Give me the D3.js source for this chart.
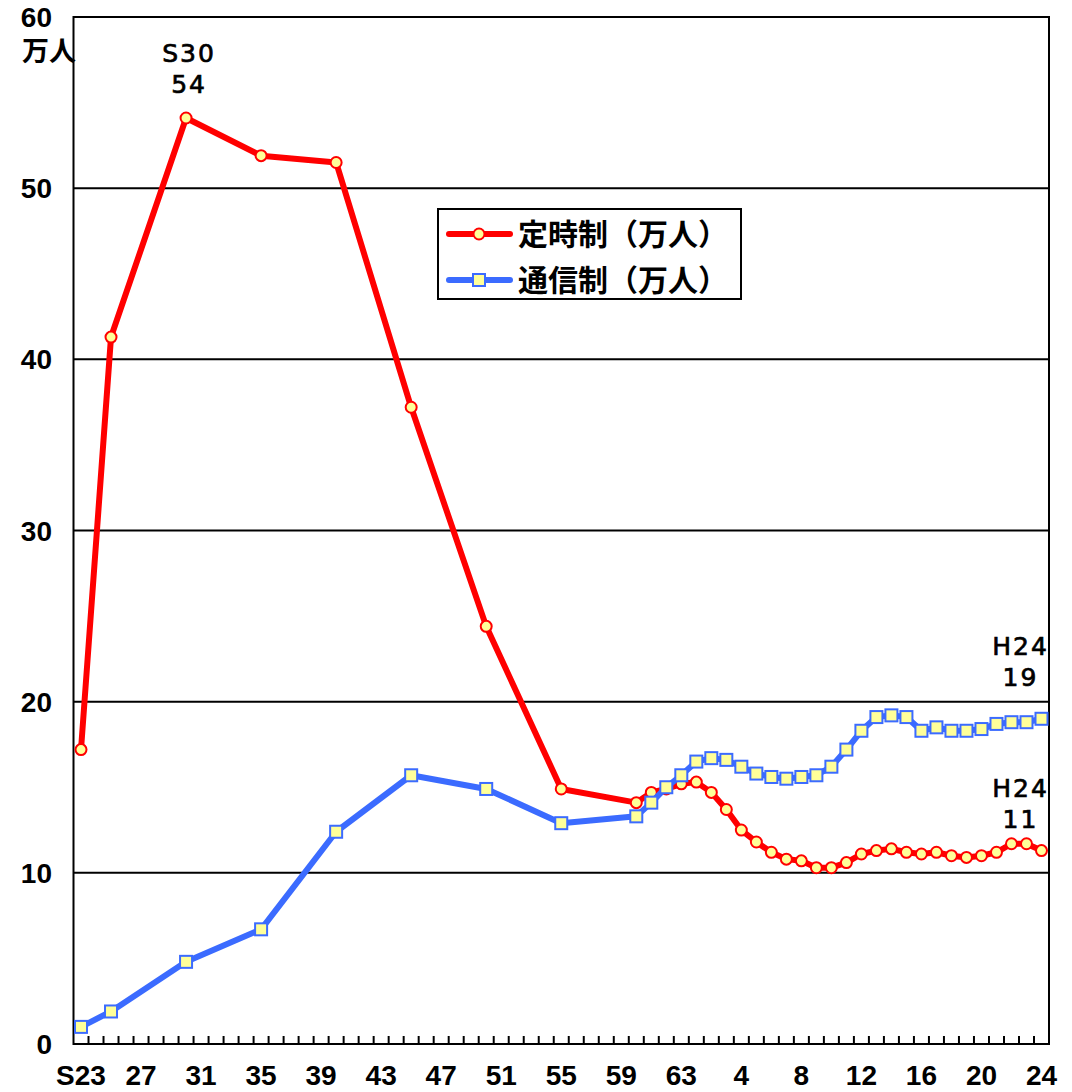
<!DOCTYPE html>
<html lang="ja">
<head>
<meta charset="UTF-8">
<title>定時制・通信制 生徒数</title>
<script src="https://d3js.org/d3.v7.min.js"></script>
<style>
  body { margin: 0; background: #fff; }
  svg { display: block; }
  .lbl { font-family: "Liberation Sans", Arial, sans-serif; font-weight: bold; fill: #000; }
  .note { font-family: "DejaVu Sans", sans-serif; fill: #000; stroke: #000; stroke-width: 0.7px; letter-spacing: 2px; }
  .jp { font-family: "Noto Sans CJK JP", sans-serif; font-weight: bold; fill: #000; }
</style>
</head>
<body>
<div id="chart"></div>
<script>
// 年度カテゴリ（S23〜S63, H1〜H24）
const categories = [];
for (let yr = 23; yr <= 63; yr++) categories.push("S" + yr);
for (let yr = 1; yr <= 24; yr++) categories.push("H" + yr);

// x軸ラベル（4年ごと）
const tickCats = ["S23","S27","S31","S35","S39","S43","S47","S51","S55","S59","S63","H4","H8","H12","H16","H20","H24"];
const tickLabels = ["S23","27","31","35","39","43","47","51","55","59","63","4","8","12","16","20","24"];
const yTicks = [0, 10, 20, 30, 40, 50, 60];

// データのある年度
const dataYears = ["S23","S25","S30","S35","S40","S45","S50","S55","S60","S61","S62","S63",
  "H1","H2","H3","H4","H5","H6","H7","H8","H9","H10","H11","H12",
  "H13","H14","H15","H16","H17","H18","H19","H20","H21","H22","H23","H24"];

// 定時制（万人）
const teijisei = [17.2, 41.3, 54.1, 51.9, 51.5, 37.2, 24.4, 14.9, 14.1, 14.7, 14.9, 15.2,
  15.3, 14.7, 13.7, 12.5, 11.8, 11.2, 10.8, 10.7, 10.3, 10.3, 10.6, 11.1,
  11.3, 11.4, 11.2, 11.1, 11.2, 11.0, 10.9, 11.0, 11.2, 11.7, 11.7, 11.3];

// 通信制（万人）
const tsushinsei = [1.0, 1.9, 4.8, 6.7, 12.4, 15.7, 14.9, 12.9, 13.3, 14.1, 15.0, 15.7,
  16.5, 16.7, 16.6, 16.2, 15.8, 15.6, 15.5, 15.6, 15.7, 16.2, 17.2, 18.3,
  19.1, 19.2, 19.1, 18.3, 18.5, 18.3, 18.3, 18.4, 18.7, 18.8, 18.8, 19.0];

const W = 1072, H = 1092;
const pLeft = 73.5, pRight = 1049, pTop = 17, pBottom = 1044;

const svg = d3.select("#chart").append("svg")
  .attr("width", W).attr("height", H);

const x = d3.scaleBand().domain(categories).range([pLeft, pRight]).padding(0);
const bw = x.bandwidth();
const cx = c => x(c) + bw / 2;
const y = d3.scaleLinear().domain([0, 60]).range([pBottom, pTop]);

// 目盛線
svg.append("g").selectAll("line")
  .data(yTicks.filter(d => d > 0 && d < 60))
  .join("line")
  .attr("x1", pLeft).attr("x2", pRight)
  .attr("y1", d => y(d)).attr("y2", d => y(d))
  .attr("stroke", "#000").attr("stroke-width", 2);

// 枠
svg.append("rect")
  .attr("x", pLeft).attr("y", pTop)
  .attr("width", pRight - pLeft).attr("height", pBottom - pTop)
  .attr("fill", "none").attr("stroke", "#000").attr("stroke-width", 2);

// x軸の小目盛（カテゴリ境界、内向き）
svg.append("g").selectAll("line")
  .data(categories.slice(0, -1))
  .join("line")
  .attr("x1", d => x(d) + bw).attr("x2", d => x(d) + bw)
  .attr("y1", pBottom).attr("y2", pBottom - 8)
  .attr("stroke", "#000").attr("stroke-width", 2);

// x軸ラベル
svg.append("g").selectAll("text")
  .data(tickCats)
  .join("text")
  .attr("class", "lbl")
  .attr("x", d => cx(d))
  .attr("y", 1085)
  .attr("text-anchor", "middle")
  .attr("font-size", 28)
  .text((d, i) => tickLabels[i]);

// y軸ラベル
svg.append("g").selectAll("text")
  .data(yTicks)
  .join("text")
  .attr("class", "lbl")
  .attr("x", 52)
  .attr("y", d => y(d))
  .attr("dy", "0.36em")
  .attr("text-anchor", "end")
  .attr("font-size", 28)
  .text(d => d);

svg.append("text")
  .attr("class", "jp")
  .attr("x", 22).attr("y", 61)
  .attr("font-size", 27)
  .text("万人");

// 系列
const series = [
  { name: "定時制（万人）", values: teijisei, color: "#ff0000", marker: "circle" },
  { name: "通信制（万人）", values: tsushinsei, color: "#3b6bff", marker: "square" }
];

const line = d3.line()
  .x(d => cx(d.year))
  .y(d => y(d.v));

series.forEach(s => {
  const pts = dataYears.map((yr, i) => ({ year: yr, v: s.values[i] }));
  const g = svg.append("g");
  g.append("path")
    .datum(pts)
    .attr("d", line)
    .attr("fill", "none")
    .attr("stroke", s.color)
    .attr("stroke-width", 6)
    .attr("stroke-linejoin", "round");
  if (s.marker === "circle") {
    g.selectAll("circle").data(pts).join("circle")
      .attr("cx", d => cx(d.year)).attr("cy", d => y(d.v))
      .attr("r", 5.5)
      .attr("fill", "#ffff99").attr("stroke", s.color).attr("stroke-width", 2);
  } else {
    g.selectAll("rect").data(pts).join("rect")
      .attr("x", d => cx(d.year) - 6).attr("y", d => y(d.v) - 6)
      .attr("width", 12).attr("height", 12)
      .attr("fill", "#ffff99").attr("stroke", s.color).attr("stroke-width", 2);
  }
});

// 注記
const notes = [
  { year: "S30", lines: ["S30", "54"], y0: 62, shift: 3 },
  { year: "H24", lines: ["H24", "19"], y0: 655, shift: -21 },
  { year: "H24", lines: ["H24", "11"], y0: 797, shift: -21 }
];
notes.forEach(n => {
  n.lines.forEach((t, i) => {
    svg.append("text")
      .attr("class", "note")
      .attr("x", cx(n.year) + n.shift)
      .attr("y", n.y0 + i * 31)
      .attr("text-anchor", "middle")
      .attr("font-size", 25)
      .text(t);
  });
});

// 凡例
const lg = svg.append("g");
lg.append("rect")
  .attr("x", 438).attr("y", 209).attr("width", 303).attr("height", 90)
  .attr("fill", "#fff").attr("stroke", "#000").attr("stroke-width", 2);
series.forEach((s, i) => {
  const ly = 234 + i * 46;
  lg.append("line")
    .attr("x1", 449).attr("x2", 510).attr("y1", ly).attr("y2", ly)
    .attr("stroke", s.color).attr("stroke-width", 6).attr("stroke-linecap", "round");
  if (s.marker === "circle") {
    lg.append("circle").attr("cx", 479).attr("cy", ly).attr("r", 5.5)
      .attr("fill", "#ffff99").attr("stroke", s.color).attr("stroke-width", 2);
  } else {
    lg.append("rect").attr("x", 473).attr("y", ly - 6).attr("width", 12).attr("height", 12)
      .attr("fill", "#ffff99").attr("stroke", s.color).attr("stroke-width", 2);
  }
  lg.append("text")
    .attr("class", "jp")
    .attr("x", 518).attr("y", ly)
    .attr("dy", "0.36em")
    .attr("font-size", 30)
    .text(s.name);
});
</script>
</body>
</html>
